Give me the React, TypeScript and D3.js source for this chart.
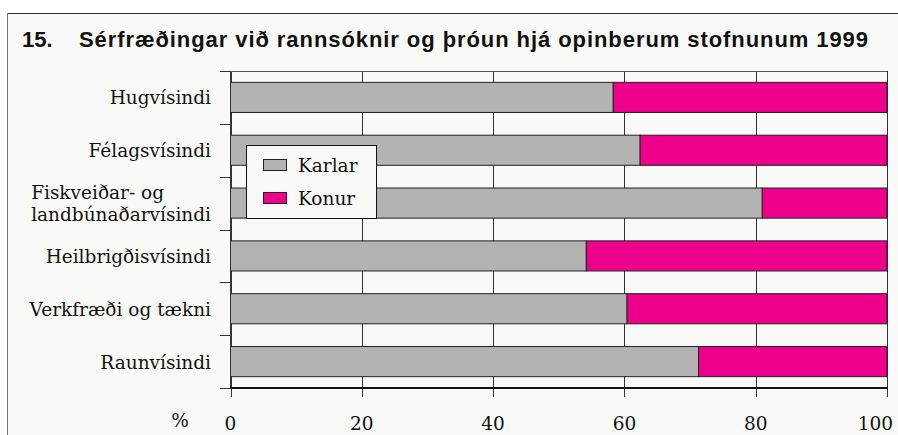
import { useEffect, useRef } from "react";
import * as d3 from "d3";

const categories = [
  "Hugvísindi",
  "Félagsvísindi",
  "Fiskveiðar- og\nlandbúnaðarvísindi",
  "Heilbrigðisvísindi",
  "Verkfræði og tækni",
  "Raunvísindi",
];
const karlar = [58.3, 62.4, 81.0, 54.2, 60.4, 71.3];
const konur = [41.7, 37.6, 19.0, 45.8, 39.6, 28.7];
const seriesNames = ["Karlar", "Konur"];
const seriesColors = ["#b3b3b3", "#ec008c"];
const xTicks = [0, 20, 40, 60, 80, 100];

const title = "Sérfræðingar við rannsóknir og þróun hjá opinberum stofnunum 1999";

export default function App() {
  const svgRef = useRef<SVGSVGElement>(null);

  useEffect(() => {
    if (!svgRef.current) return;
    const svg = d3.select(svgRef.current);
    svg.selectAll("*").remove();

    const width = 898;
    const height = 435;
    const serif = "'DejaVu Serif', serif";
    const sans = "'Liberation Sans', Arial, sans-serif";
    const fs = "18.5px";

    // background + frame
    svg.append("rect").attr("width", width).attr("height", height).attr("fill", "#ffffff");
    svg.append("rect").attr("x", 7).attr("y", 13).attr("width", width).attr("height", height)
      .attr("fill", "#f9faf8");
    svg.append("line").attr("x1", 7).attr("x2", width).attr("y1", 13.5).attr("y2", 13.5)
      .attr("stroke", "#333").attr("stroke-width", 1);
    svg.append("line").attr("x1", 7.5).attr("x2", 7.5).attr("y1", 13).attr("y2", height)
      .attr("stroke", "#777").attr("stroke-width", 1);

    // title
    svg.append("text").attr("x", 22).attr("y", 47)
      .style("font-family", sans).style("font-weight", "bold").style("font-size", "22px")
      .style("fill", "#111").text("15.");
    svg.append("text").attr("x", 79).attr("y", 47)
      .attr("textLength", 789).attr("lengthAdjust", "spacing")
      .style("font-family", sans).style("font-weight", "bold").style("font-size", "22px")
      .style("fill", "#111").text(title);

    const x = d3.scaleLinear().domain([0, 100]).range([230.5, 887]);
    const y = d3.scaleBand<string>().domain(categories).range([71, 388])
      .paddingInner(0.43).paddingOuter(0.215);
    const step = y.step();
    const boundaries = categories.map((c) => y(c)! - (step * 0.43) / 2);
    boundaries.push(388);

    const g = svg.append("g");

    // gridlines + ticks below the axis
    g.selectAll(".grid").data(xTicks).enter().append("line")
      .attr("x1", (d) => Math.round(x(d)) + 0.5).attr("x2", (d) => Math.round(x(d)) + 0.5)
      .attr("y1", 71).attr("y2", 397)
      .attr("stroke", "#333").attr("stroke-width", 1);

    // top border
    g.append("line").attr("x1", x(0)).attr("x2", x(100)).attr("y1", 71.5).attr("y2", 71.5)
      .attr("stroke", "#555").attr("stroke-width", 1);

    // stacked bars
    const table = categories.map((c, i) => ({ cat: c, Karlar: karlar[i], Konur: konur[i] }));
    const stack = d3.stack<any>().keys(seriesNames)(table);
    stack.forEach((layer, si) => {
      g.selectAll(".bar" + si).data(layer).enter().append("rect")
        .attr("x", (d) => x(d[0]))
        .attr("y", (d) => y(d.data.cat)!)
        .attr("width", (d) => x(d[1]) - x(d[0]))
        .attr("height", y.bandwidth())
        .attr("fill", seriesColors[si])
        .attr("stroke", "#222").attr("stroke-width", 1);
    });

    // left axis with ticks at band boundaries
    g.append("line").attr("x1", 230.5).attr("x2", 230.5).attr("y1", 71).attr("y2", 389)
      .attr("stroke", "#333").attr("stroke-width", 1);
    g.selectAll(".ytick").data(boundaries).enter().append("line")
      .attr("x1", 220).attr("x2", 231)
      .attr("y1", (d) => Math.round(d) + 0.5).attr("y2", (d) => Math.round(d) + 0.5)
      .attr("stroke", "#333").attr("stroke-width", 1);
    // bottom axis
    g.append("line").attr("x1", x(0)).attr("x2", x(100) + 0.5).attr("y1", 388).attr("y2", 388)
      .attr("stroke", "#111").attr("stroke-width", 2);

    // category labels
    const labelRight = 211;
    categories.forEach((c) => {
      const lines = c.split("\n");
      const cy = y(c)! + y.bandwidth() / 2;
      if (lines.length === 1) {
        g.append("text").attr("x", labelRight).attr("y", cy + 7)
          .attr("text-anchor", "end")
          .style("font-family", serif).style("font-size", fs).style("fill", "#111")
          .text(c);
      } else {
        const t = g.append("text")
          .style("font-family", serif).style("font-size", fs).style("fill", "#111");
        const spans = lines.map((ln, i) =>
          t.append("tspan").attr("y", cy + (i - (lines.length - 1) / 2) * 22 + 7).text(ln)
        );
        const widths = spans.map((s) => (s.node() as SVGTSpanElement).getComputedTextLength());
        const left = labelRight - Math.max(...widths);
        spans.forEach((s) => s.attr("x", left));
      }
    });

    // x tick labels
    g.selectAll(".xlab").data(xTicks).enter().append("text")
      .attr("x", (d) => (d === 100 ? 893 : x(d))).attr("y", 430)
      .attr("text-anchor", (d) => (d === 100 ? "end" : "middle"))
      .style("font-family", serif).style("font-size", fs).style("fill", "#111")
      .text((d) => String(d));
    g.append("text").attr("x", 180).attr("y", 427).attr("text-anchor", "middle")
      .style("font-family", serif).style("font-size", fs).style("fill", "#111").text("%");

    // legend
    const lg = svg.append("g");
    lg.append("rect").attr("x", 246.5).attr("y", 145.5).attr("width", 130).attr("height", 73)
      .attr("fill", "#f9faf8").attr("stroke", "#111").attr("stroke-width", 1);
    seriesNames.forEach((name, i) => {
      const yy = 159 + i * 33;
      lg.append("rect").attr("x", 263.5).attr("y", yy + 0.5).attr("width", 23).attr("height", 11)
        .attr("fill", seriesColors[i]).attr("stroke", "#222").attr("stroke-width", 1);
      lg.append("text").attr("x", 298).attr("y", yy + 13)
        .style("font-family", serif).style("font-size", fs).style("fill", "#111")
        .text(name);
    });
  }, []);

  return (
    <svg
      ref={svgRef}
      width={898}
      height={435}
      style={{ position: "absolute", left: 0, top: 0, display: "block" }}
    />
  );
}
